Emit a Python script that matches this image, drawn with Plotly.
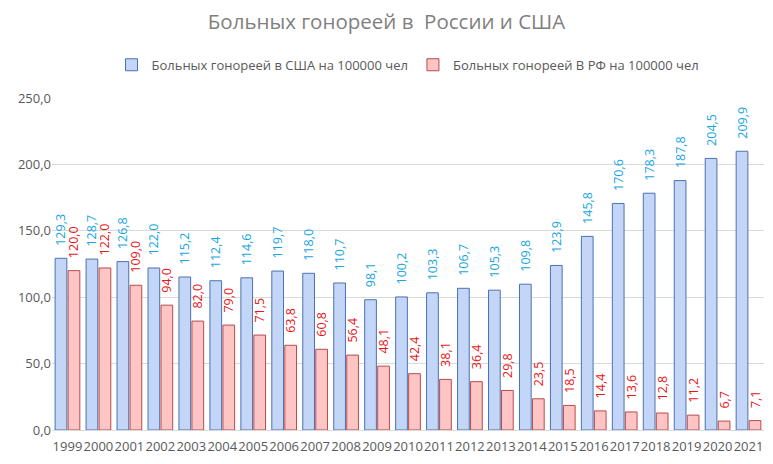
import plotly.graph_objects as go

# годы и значения (на 100000 чел)
years = [str(y) for y in range(1999, 2022)]
usa = [129.3, 128.7, 126.8, 122.0, 115.2, 112.4, 114.6, 119.7, 118.0, 110.7, 98.1, 100.2,
       103.3, 106.7, 105.3, 109.8, 123.9, 145.8, 170.6, 178.3, 187.8, 204.5, 209.9]
rf = [120.0, 122.0, 109.0, 94.0, 82.0, 79.0, 71.5, 63.8, 60.8, 56.4, 48.1, 42.4,
      38.1, 36.4, 29.8, 23.5, 18.5, 14.4, 13.6, 12.8, 11.2, 6.7, 7.1]

usa_name = "Больных гонореей в США на 100000 чел"
rf_name = "Больных гонореей В РФ на 100000 чел"

font = "Open Sans"
pad = "\u2002\u00a0"  # небольшой отступ подписи от столбика


def label(v):
    return pad + f"{v:.1f}".replace(".", ",")


fig = go.Figure()
fig.add_trace(go.Bar(
    x=years, y=usa, name=usa_name,
    marker=dict(color="#c3d6f8", line=dict(color="#4a72b0", width=1)),
    text=[label(v) for v in usa],
    textposition="outside", textangle=-90, constraintext="none",
    textfont=dict(color="#17a6e2", size=12.5, family=font),
    cliponaxis=False,
))
fig.add_trace(go.Bar(
    x=years, y=rf, name=rf_name,
    marker=dict(color="#ffc4c4", line=dict(color="#b84b4b", width=1)),
    text=[label(v) for v in rf],
    textposition="outside", textangle=-90, constraintext="none",
    textfont=dict(color="#e81515", size=12.5, family=font),
    cliponaxis=False,
))

fig.update_layout(
    width=773, height=464,
    margin=dict(l=52, r=9, t=98, b=34),
    paper_bgcolor="white", plot_bgcolor="white",
    separators=", ",
    font=dict(family=font, color="#595959"),
    title=dict(text="Больных гонореей в  России и США", x=0.5, xanchor="center",
               y=0.953, yanchor="middle",
               font=dict(size=20.5, color="#7f7f7f", family=font)),
    legend=dict(orientation="h", x=0.5, xanchor="center", y=1.1, yanchor="middle",
                font=dict(size=13, color="#595959", family=font),
                itemwidth=30),
    bargap=0.16, bargroupgap=0.1,
    showlegend=True,
)
fig.update_xaxes(type="category", tickangle=0, tickfont=dict(size=13, color="#595959"),
                 showline=True, linecolor="#d9d9d9", ticks="", ticklabelstandoff=4)
fig.update_yaxes(range=[0, 250], dtick=50, tickformat=".1f",
                 tickfont=dict(size=13, color="#595959"),
                 gridcolor="#d9d9d9", zeroline=False, ticks="")

fig.write_html("out.html", config={"displayModeBar": False},
               post_script="document.body.style.margin='0';")
